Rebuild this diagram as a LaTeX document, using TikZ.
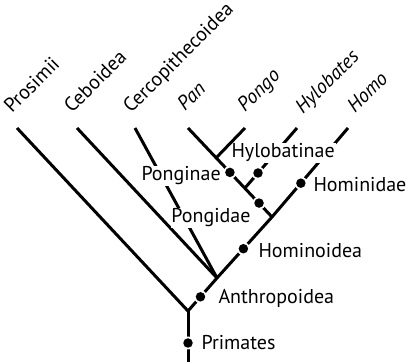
\documentclass[tikz,border=0pt]{standalone}
\usepackage{fontspec}
\setmainfont{PT Sans}
\usetikzlibrary{calc}
\begin{document}
\begin{tikzpicture}[x=1pt,y=-1pt,line width=3pt,
  lab/.style={fill=white,inner sep=1pt,anchor=base west,font=\fontsize{20}{22}\selectfont},
  toplab/.style={anchor=base west,rotate=45,inner sep=0pt,font=\fontsize{20}{22}\selectfont},
  itlab/.style={toplab,font=\fontsize{20}{22}\selectfont\itshape},
  halo/.style={circle,fill=white,inner sep=0pt,minimum size=13pt},
  dot/.style={circle,fill=black,inner sep=0pt,minimum size=9.5pt}]
\useasboundingbox (0,0) rectangle (408,363);
% branch points
\coordinate (bot) at (188,362);
\coordinate (root) at (188,311);
\coordinate (n1) at (217,278);
\coordinate (n2) at (272,217);
\coordinate (n3) at (245,188);
\coordinate (n4) at (216,158);
% tips
\coordinate (tPros) at (17,128);
\coordinate (tCeb) at (77,128);
\coordinate (tCerc) at (135,128);
\coordinate (tPan) at (188,128);
\coordinate (tPongo) at (245,128);
\coordinate (tHylo) at (297,128);
\coordinate (tHomo) at (348,128);
% dots
\coordinate (dPrim) at (188,343);
\coordinate (dAnth) at ($(root)!0.43!(n1)$);
\coordinate (dHoid) at ($(n1)!0.48!(n2)$);
\coordinate (dHdae) at ($(n2)!0.38!(tHomo)$);
\coordinate (dPdae) at ($(n2)!0.48!(n3)$);
\coordinate (dPnae) at ($(n3)!0.52!(n4)$);
\coordinate (dHyl) at ($(n3)!0.25!(tHylo)$);
% branches
\draw (bot) -- (root);
\draw (tPros) -- (root) -- (n1) -- (n2) -- (tHomo);
\draw (tCeb) -- (n1);
\draw (tCerc) -- (n1);
\draw (tPan) -- (n2);
\draw (n3) -- (tHylo);
% labels
\node[lab] (lPnae) at (139,181) {Ponginae};
\node[lab] (lPdae) at (169,223) {Pongidae};
\node[lab] (lHyl) at (229,158) {Hylobatinae};
\node[lab] (lHdae) at (311,192) {Hominidae};
\node[lab] (lHoid) at (256,258) {Hominoidea};
\node[lab] (lAnth) at (216,304) {Anthropoidea};
\node[lab] (lPrim) at (199,350) {Primates};
\draw (n4) -- (tPongo);
% dots with halos
\foreach \d in {dPrim,dAnth,dHoid,dHdae,dPdae,dPnae,dHyl}{
  \node[halo] at (\d) {};
  \node[dot] (\d n) at (\d) {};
}
% tip labels
\node[toplab] (lPros) at (11,115) {Prosimii};
\node[toplab] (lCeb) at (71,115) {Ceboidea};
\node[toplab] (lCerc) at (130,115) {Cercopithecoidea};
\node[itlab] (lPan) at (184,113) {Pan};
\node[itlab] (lPongo) at (244,114) {Pongo};
\node[itlab] (lHylo) at (302,116) {Hylobates};
\node[itlab] (lHomo) at (354,115) {Homo};
\end{tikzpicture}
\end{document}
